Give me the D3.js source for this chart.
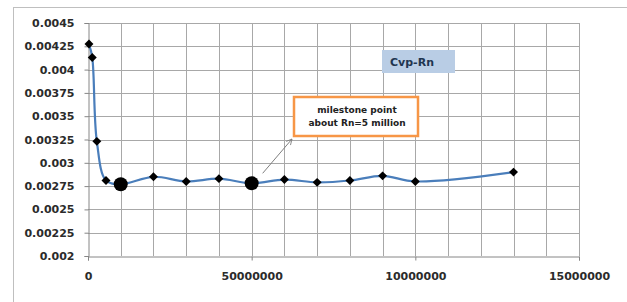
<!DOCTYPE html>
<html>
<head>
<meta charset="utf-8">
<script src="https://cdn.jsdelivr.net/npm/d3@7"></script>
<style>
  body { margin: 0; background: #fff; }
  svg { display: block; }
</style>
</head>
<body>
<div id="chart"></div>
<script>
// Cvp against Rn
const rn = [300000, 1300000, 2700000, 5500000, 10000000, 20000000, 30000000, 40000000,
            50000000, 60000000, 70000000, 80000000, 90000000, 100000000, 130000000];
const cvp = [0.004275, 0.00413, 0.00323, 0.00281, 0.00277, 0.00285, 0.0028, 0.00283,
             0.00278, 0.00282, 0.00279, 0.00281, 0.00286, 0.0028, 0.0029];
const milestones = [10000000, 50000000];

const xTicks = [0, 50000000, 100000000, 150000000];
const xTickLabels = ["0", "50000000", "10000000", "15000000"];
const xGrid = [10000000, 20000000, 30000000, 40000000, 50000000, 60000000, 70000000,
               80000000, 90000000, 100000000, 110000000, 120000000, 130000000, 140000000, 150000000];
const yTicks = [0.002, 0.00225, 0.0025, 0.00275, 0.003, 0.00325, 0.0035, 0.00375, 0.004, 0.00425, 0.0045];
const yTickLabels = ["0.002", "0.00225", "0.0025", "0.00275", "0.003", "0.00325", "0.0035", "0.00375", "0.004", "0.00425", "0.0045"];

const width = 627;
const height = 302;
const margin = { left: 88, right: 48, top: 23, bottom: 46 };

function createChart() {
    const svg = d3.select("#chart")
        .append("svg")
        .attr("width", width)
        .attr("height", height);

    // outer chart frame
    svg.append("rect")
        .attr("x", 13.5).attr("y", 7.5)
        .attr("width", 640).attr("height", 320)
        .attr("fill", "#fff")
        .attr("stroke", "#bfbfbf");

    const x = d3.scaleLinear().domain([0, 150000000]).range([margin.left, width - margin.right]);
    const y = d3.scaleLinear().domain([0.002, 0.0045]).range([height - margin.bottom, margin.top]);

    // gridlines
    const grid = svg.append("g").attr("class", "grid");
    grid.selectAll("rect.v")
        .data(xGrid)
        .join("rect")
        .attr("class", "v")
        .attr("x", d => Math.round(x(d)))
        .attr("y", y(0.0045))
        .attr("width", 1)
        .attr("height", y(0.002) - y(0.0045))
        .attr("fill", "#a8a8a8");
    grid.selectAll("rect.h")
        .data(yTicks.slice(1))
        .join("rect")
        .attr("class", "h")
        .attr("x", x(0))
        .attr("y", d => Math.round(y(d)))
        .attr("width", x(150000000) - x(0))
        .attr("height", 1)
        .attr("fill", "#a8a8a8");

    // axes
    const yAxis = svg.append("g")
        .attr("transform", `translate(${x(0) + 0.5},0)`)
        .call(d3.axisLeft(y).tickValues(yTicks).tickSize(4).tickPadding(10)
            .tickFormat((d, i) => yTickLabels[i]));
    const xAxis = svg.append("g")
        .attr("transform", `translate(0,${Math.round(y(0.002)) + 0.5})`)
        .call(d3.axisBottom(x).tickValues(xTicks).tickSize(4).tickPadding(12)
            .tickFormat((d, i) => xTickLabels[i]));

    [xAxis, yAxis].forEach(a => {
        a.select(".domain").attr("stroke", "#868686");
        a.selectAll(".tick line").attr("stroke", "#868686");
        a.selectAll("text")
            .attr("fill", "#2b2b2b")
            .style("font-family", "'DejaVu Sans', sans-serif")
            .style("font-weight", "bold")
            .style("font-size", "11px");
    });

    // series line
    const line = d3.line()
        .x((d, i) => x(rn[i]))
        .y(d => y(d))
        .curve(d3.curveCatmullRom.alpha(0.5));

    svg.append("path")
        .datum(cvp)
        .attr("fill", "none")
        .attr("stroke", "#4a7ebb")
        .attr("stroke-width", 2.2)
        .attr("d", line);

    // markers
    const pts = rn.map((r, i) => ({ r, v: cvp[i] }));
    svg.selectAll("path.mk")
        .data(pts.filter(p => !milestones.includes(p.r)))
        .join("path")
        .attr("class", "mk")
        .attr("d", d3.symbol().type(d3.symbolSquare).size(40))
        .attr("transform", d => `translate(${x(d.r)},${y(d.v)}) rotate(45)`)
        .attr("fill", "#000");
    svg.selectAll("circle.big")
        .data(pts.filter(p => milestones.includes(p.r)))
        .join("circle")
        .attr("class", "big")
        .attr("cx", d => x(d.r))
        .attr("cy", d => y(d.v))
        .attr("r", 7)
        .attr("fill", "#000");

    // series label box
    svg.append("rect")
        .attr("x", 382).attr("y", 50)
        .attr("width", 73).attr("height", 23)
        .attr("fill", "#b9cde5");
    svg.append("text")
        .attr("x", 390).attr("y", 66)
        .attr("fill", "#1f3550")
        .style("font-family", "'DejaVu Sans', sans-serif")
        .style("font-weight", "bold")
        .style("font-size", "11px")
        .text("Cvp-Rn");

    // milestone annotation
    const mx = x(50000000), my = y(0.00278);
    svg.append("defs").append("marker")
        .attr("id", "arrow")
        .attr("viewBox", "0 0 10 10")
        .attr("refX", 9).attr("refY", 5)
        .attr("markerWidth", 7).attr("markerHeight", 7)
        .attr("orient", "auto")
        .append("path")
        .attr("d", "M1,1 L9,5 L1,9")
        .attr("fill", "none")
        .attr("stroke", "#7f7f7f")
        .attr("stroke-width", 1.2);
    svg.append("line")
        .attr("x1", mx + 11).attr("y1", my - 10)
        .attr("x2", 292).attr("y2", 139)
        .attr("stroke", "#7f7f7f")
        .attr("stroke-width", 1)
        .attr("marker-end", "url(#arrow)");

    svg.append("rect")
        .attr("x", 294).attr("y", 97)
        .attr("width", 124).attr("height", 39)
        .attr("fill", "#fff")
        .attr("stroke", "#f79646")
        .attr("stroke-width", 2.5);
    svg.append("text")
        .attr("x", 357).attr("y", 113)
        .attr("text-anchor", "middle")
        .attr("fill", "#222")
        .style("font-family", "'DejaVu Sans', sans-serif")
        .style("font-weight", "bold")
        .style("font-size", "9px")
        .selectAll("tspan")
        .data(["milestone point", "about Rn=5 million"])
        .join("tspan")
        .attr("x", 357)
        .attr("dy", (d, i) => i ? 13 : 0)
        .text(d => d);
}

createChart();
</script>
</body>
</html>
